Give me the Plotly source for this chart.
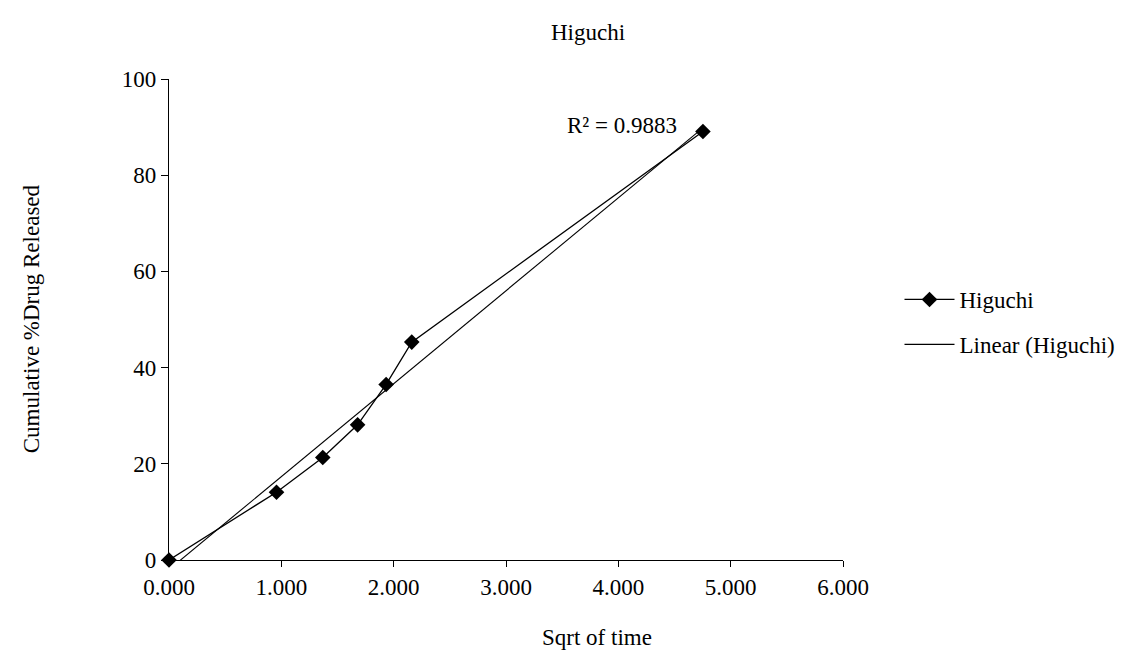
import numpy as np
import plotly.graph_objects as go

# Data
sqrt_time = [0.0, 0.957, 1.369, 1.679, 1.933, 2.161, 4.753]
cum_release = [0.0, 14.1, 21.3, 28.1, 36.5, 45.3, 89.1]
series_name = "Higuchi"
trend_name = "Linear (Higuchi)"
r2_label = "R² = 0.9883"
x_ticks = [0, 1, 2, 3, 4, 5, 6]
y_ticks = [0, 20, 40, 60, 80, 100]

FONT = "Liberation Serif, Times New Roman, serif"
FS = 23

# Linear trendline (least squares) over the data x range
slope, intercept = np.polyfit(sqrt_time, cum_release, 1)
tx = [min(sqrt_time), max(sqrt_time)]
ty = [slope * v + intercept for v in tx]

fig = go.Figure()
fig.add_trace(go.Scatter(
    x=sqrt_time, y=cum_release, mode="lines+markers", name=series_name,
    line=dict(color="black", width=1.3),
    marker=dict(symbol="diamond", size=12, color="black"),
    cliponaxis=False, legendgroup="a",
))
fig.add_trace(go.Scatter(
    x=tx, y=ty, mode="lines", name=trend_name,
    line=dict(color="black", width=1.1), legendgroup="b",
))

W, H = 1125, 651
L, R, T, B = 161, 284, 71, 99
pw, ph = W - L - R, H - T - B

def px_x(px):
    return (px - L) / pw

def px_y(py):
    return (H - B - py) / ph

fig.update_layout(
    width=W, height=H,
    margin=dict(l=L, r=R, t=T, b=B),
    paper_bgcolor="white", plot_bgcolor="white",
    font=dict(family=FONT, size=FS, color="black"),
    title=dict(text="Higuchi", x=580 / W, xanchor="center",
               y=1 - 24 / H, yanchor="middle", yref="container",
               font=dict(family=FONT, size=FS, color="black")),
    showlegend=True,
    legend=dict(x=px_x(898), xanchor="left", y=px_y(270), yanchor="top",
                font=dict(family=FONT, size=FS, color="black"),
                itemwidth=50, traceorder="grouped", tracegroupgap=12,
                bgcolor="rgba(0,0,0,0)"),
    xaxis=dict(range=[0, 6], tickvals=x_ticks, tickformat=".3f",
               showline=True, linecolor="black", linewidth=1.2,
               ticks="outside", ticklen=6, tickcolor="black",
               showgrid=False, zeroline=False,
               tickfont=dict(family=FONT, size=FS, color="black")),
    yaxis=dict(range=[0, 100], tickvals=y_ticks,
               showline=True, linecolor="black", linewidth=1.2,
               ticks="outside", ticklen=7, tickcolor="black",
               showgrid=False, zeroline=False,
               tickfont=dict(family=FONT, size=FS, color="black")),
)

fig.add_annotation(text="Sqrt of time", xref="paper", yref="paper",
                   x=px_x(593), y=px_y(629), xanchor="center", yanchor="middle",
                   showarrow=False, font=dict(family=FONT, size=FS, color="black"))
fig.add_annotation(text="Cumulative %Drug Released", xref="paper", yref="paper",
                   x=px_x(22), y=px_y(311), xanchor="center", yanchor="middle",
                   textangle=-90, showarrow=False,
                   font=dict(family=FONT, size=FS, color="black"))
fig.add_annotation(text=r2_label, xref="paper", yref="paper",
                   x=px_x(676), y=px_y(118), xanchor="right", yanchor="middle",
                   showarrow=False, font=dict(family=FONT, size=FS, color="black"))

fig.write_html("out.html")
